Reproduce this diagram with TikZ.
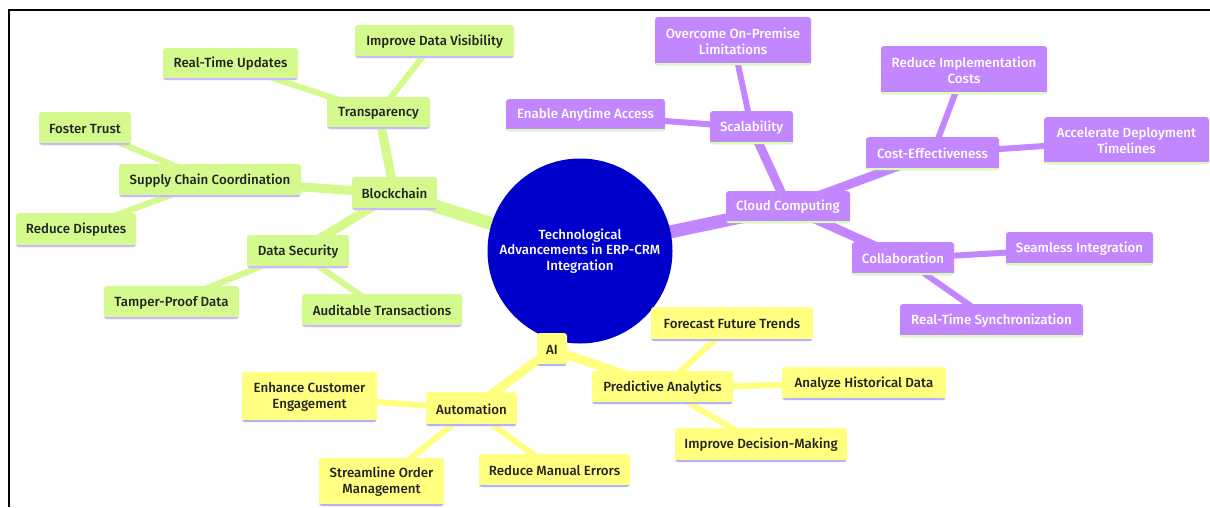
\documentclass[tikz,border=0pt]{standalone}
\usepackage{fontspec}
\setmainfont{Fira Sans}[UprightFont={* Medium}]
\usetikzlibrary{backgrounds}
\definecolor{gfill}{RGB}{212,250,142}
\definecolor{gline}{RGB}{204,184,255}
\definecolor{pfill}{RGB}{194,134,255}
\definecolor{pline}{RGB}{214,255,176}
\definecolor{yfill}{RGB}{255,255,128}
\definecolor{yline}{RGB}{178,178,255}
\definecolor{rootblue}{RGB}{0,0,205}
\definecolor{darktext}{RGB}{34,34,34}
\begin{document}
\begin{tikzpicture}[x=1pt,y=-1pt,
  box/.style={rounded corners=3pt, inner sep=0pt, align=center,
    font=\fontsize{13.3}{16}\selectfont},
  gbox/.style={box, fill=gfill, text=darktext,
    path picture={\draw[line width=4pt, gline] (path picture bounding box.south west) -- (path picture bounding box.south east);}},
  pbox/.style={box, fill=pfill, text=white,
    path picture={\draw[line width=4pt, pline] (path picture bounding box.south west) -- (path picture bounding box.south east);}},
  ybox/.style={box, fill=yfill, text=darktext,
    path picture={\draw[line width=4pt, yline] (path picture bounding box.south west) -- (path picture bounding box.south east);}},
  sz/.style 2 args={minimum width=#1pt, minimum height=#2pt},
  lvA/.style={line width=13pt},
  lvB/.style={line width=9pt},
  lvC/.style={line width=6pt},
]
\useasboundingbox (0,0) rectangle (1210,507);

% root
\node[circle, fill=rootblue, minimum size=185pt, inner sep=0pt, text=white, align=center,
  font=\fontsize{13.3}{15.5}\selectfont] (root) at (580,251)
  {Technological\\Advancements in ERP-CRM\\Integration};

% blockchain branch
\node[gbox, sz={85}{33}] (block) at (394.5,193.5) {Blockchain};
\node[gbox, sz={103}{32}] (trans) at (378.5,113) {Transparency};
\node[gbox, sz={159}{33}] (vis) at (434.5,41.5) {Improve Data Visibility};
\node[gbox, sz={135}{32}] (rtu) at (230.5,64) {Real-Time Updates};
\node[gbox, sz={182}{33}] (supply) at (210,180.5) {Supply Chain Coordination};
\node[gbox, sz={92}{33}] (trust) at (85,128.5) {Foster Trust};
\node[gbox, sz={120}{34}] (disputes) at (76,230) {Reduce Disputes};
\node[gbox, sz={102}{33}] (datasec) at (298,251.5) {Data Security};
\node[gbox, sz={135}{33}] (tamper) at (171.5,302.5) {Tamper-Proof Data};
\node[gbox, sz={160}{33}] (audit) at (382,310.5) {Auditable Transactions};

% cloud branch
\node[pbox, sz={124}{32}] (cloud) at (788,207) {Cloud Computing};
\node[pbox, sz={83}{33}] (scal) at (751.5,127.5) {Scalability};
\node[pbox, sz={156}{48}] (overcome) at (733,41) {Overcome On-Premise\\Limitations};
\node[pbox, sz={159}{32}] (anytime) at (585.5,115) {Enable Anytime Access};
\node[pbox, sz={133}{33}] (costeff) at (932.5,153.5) {Cost-Effectiveness};
\node[pbox, sz={166}{48}] (implcost) at (964,70) {Reduce Implementation\\Costs};
\node[pbox, sz={165}{47}] (accel) at (1126.5,140.5) {Accelerate Deployment\\Timelines};
\node[pbox, sz={102}{33}] (collab) at (903,258.5) {Collaboration};
\node[pbox, sz={147}{33}] (seamless) at (1079.5,248.5) {Seamless Integration};
\node[pbox, sz={183}{33}] (rts) at (991.5,320.5) {Real-Time Synchronization};

% AI branch
\node[ybox, sz={30}{33}] (ai) at (552,349.5) {AI};
\node[ybox, sz={91}{34}] (auto) at (471.5,409) {Automation};
\node[ybox, sz={135}{50}] (enhance) at (309.5,397) {Enhance Customer\\Engagement};
\node[ybox, sz={125}{48}] (streamline) at (381.5,482) {Streamline Order\\Management};
\node[ybox, sz={151}{33}] (manual) at (554.5,470.5) {Reduce Manual Errors};
\node[ybox, sz={141}{33}] (predict) at (662.5,387.5) {Predictive Analytics};
\node[ybox, sz={162}{34}] (forecast) at (732,324) {Forecast Future Trends};
\node[ybox, sz={164}{33}] (analyze) at (864,383.5) {Analyze Historical Data};
\node[ybox, sz={172}{34}] (decision) at (761,445) {Improve Decision-Making};

% connectors run centre to centre, beneath the boxes
\begin{scope}[on background layer]
\fill[white] (0,0) rectangle (1210,507);
\draw[line width=2pt, black] (1210,10) -- (9,10) -- (9,507);
\begin{scope}[gfill]
\draw[lvA] (root.center) -- (block.center);
\draw[lvB] (block.center) -- (trans.center);
\draw[lvB] (block.center) -- (supply.center);
\draw[lvB] (block.center) -- (datasec.center);
\draw[lvC] (trans.center) -- (vis.center);
\draw[lvC] (trans.center) -- (rtu.center);
\draw[lvC] (supply.center) -- (trust.center);
\draw[lvC] (supply.center) -- (disputes.center);
\draw[lvC] (datasec.center) -- (tamper.center);
\draw[lvC] (datasec.center) -- (audit.center);
\end{scope}
\begin{scope}[pfill]
\draw[lvA] (root.center) -- (cloud.center);
\draw[lvB] (cloud.center) -- (scal.center);
\draw[lvB] (cloud.center) -- (costeff.center);
\draw[lvB] (cloud.center) -- (collab.center);
\draw[lvC] (scal.center) -- (overcome.center);
\draw[lvC] (scal.center) -- (anytime.center);
\draw[lvC] (costeff.center) -- (implcost.center);
\draw[lvC] (costeff.center) -- (accel.center);
\draw[lvC] (collab.center) -- (seamless.center);
\draw[lvC] (collab.center) -- (rts.center);
\end{scope}
\begin{scope}[yfill]
\draw[lvA] (root.center) -- (ai.center);
\draw[lvB] (ai.center) -- (auto.center);
\draw[lvB] (ai.center) -- (predict.center);
\draw[lvC] (auto.center) -- (enhance.center);
\draw[lvC] (auto.center) -- (streamline.center);
\draw[lvC] (auto.center) -- (manual.center);
\draw[lvC] (predict.center) -- (forecast.center);
\draw[lvC] (predict.center) -- (analyze.center);
\draw[lvC] (predict.center) -- (decision.center);
\end{scope}
\end{scope}
\end{tikzpicture}
\end{document}
